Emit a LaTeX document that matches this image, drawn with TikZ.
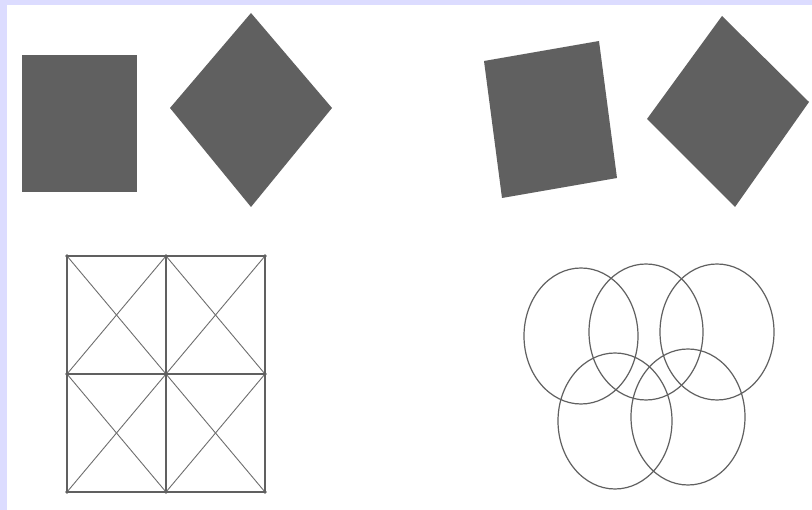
\documentclass[tikz,border=0pt]{standalone}
\usepackage{xcolor}
\usepackage{tikz}
\definecolor{framelilac}{HTML}{DCDCFF}
\definecolor{shapegray}{HTML}{606060}
\definecolor{diaggray}{HTML}{6E6E6E}

\begin{document}
\begin{tikzpicture}[x=1pt, y=-1pt,
    solid shape/.style={fill=shapegray},
    grid line/.style={draw=shapegray, line width=1.6pt},
    diag line/.style={draw=diaggray, line width=0.9pt},
    ring/.style={draw=shapegray, line width=1.2pt}]
  % page with the lilac frame on top and left
  \fill[framelilac] (0,0) rectangle (812,510);
  \fill[white] (7,5) rectangle (812,510);
  \useasboundingbox (0,0) rectangle (812,510);

  % top left: upright square and diamond
  \fill[solid shape] (22,55) rectangle (137,192);
  \fill[solid shape] (170,108) -- (251,13) -- (332,108) -- (251,207) -- cycle;

  % top right: the same pair, turned a little
  \fill[solid shape] (484,61) -- (599,41) -- (617,178) -- (502,198) -- cycle;
  \fill[solid shape] (647,119) -- (722,16) -- (809,102) -- (735,207) -- cycle;

  % bottom left: 2x2 grid with crossed cells
  \foreach \xa/\xb in {67/166, 166/265}
    \foreach \ya/\yb in {256/374, 374/492} {
      \draw[diag line] (\xa,\ya) -- (\xb,\yb);
      \draw[diag line] (\xa,\yb) -- (\xb,\ya);
    }
  \foreach \x in {67,166,265}
    \draw[grid line] (\x,256) -- (\x,492);
  \foreach \y in {256,374,492}
    \draw[grid line] (67,\y) -- (265,\y);
  \foreach \x in {67,166,265}
    \foreach \y in {256,374,492}
      \fill[shapegray] (\x,\y) circle (1.8pt);

  % bottom right: five rings
  \foreach \cx/\cy in {581/336, 646/332, 717/332, 615/421, 688/417}
    \draw[ring] (\cx,\cy) ellipse [x radius=57pt, y radius=68pt];
\end{tikzpicture}
\end{document}
